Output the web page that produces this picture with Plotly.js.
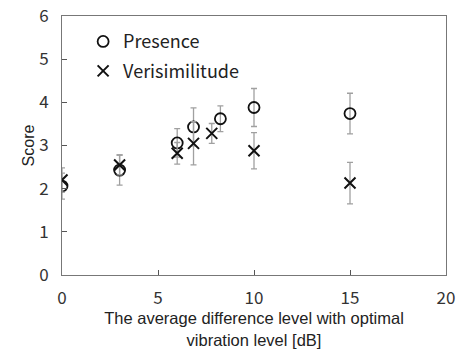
<!DOCTYPE html>
<html><head><meta charset="utf-8">
<script src="https://cdn.plot.ly/plotly-3.0.1.min.js"></script>
<style>body{margin:0;}#c{width:462px;height:349px;}</style>
</head><body><div id="c"></div>
<script>
const presX = [0, 3, 6, 6.85, 8.25, 10, 15];
const presY = [2.06, 2.43, 3.06, 3.43, 3.62, 3.88, 3.74];
const presErr = [0.3, 0.35, 0.33, 0.44, 0.3, 0.44, 0.47];
const veriX = [0, 3, 6, 6.85, 7.8, 10, 15];
const veriY = [2.2, 2.55, 2.82, 3.05, 3.28, 2.88, 2.13];
const veriErr = [0.28, 0.23, 0.25, 0.5, 0.23, 0.42, 0.48];
const xTicks = [0, 5, 10, 15, 20];
const yTicks = [0, 1, 2, 3, 4, 5, 6];

const errStyle = {type:'data', visible:true, color:'#a0a0a0', thickness:1.3, width:3};
const traces = [
  {x:presX, y:presY, name:'Presence', legendgroup:'a', mode:'markers', type:'scatter',
   error_y:Object.assign({array:presErr}, errStyle),
   marker:{symbol:'circle-open', size:11, color:'#111', line:{width:1.8, color:'#111'}}},
  {x:veriX, y:veriY, name:'Verisimilitude', legendgroup:'b', mode:'markers', type:'scatter',
   error_y:Object.assign({array:veriErr}, errStyle),
   marker:{symbol:'x-thin-open', size:11, color:'#111', line:{width:2, color:'#111'}}}
];
const tickFont = {family:'Noto Sans CJK JP, sans-serif', size:17, color:'#333'};
const layout = {
  width:462, height:349,
  margin:{l:62, r:16, t:16, b:74},
  paper_bgcolor:'#fff', plot_bgcolor:'#fff',
  showlegend:true,
  legend:{x:0.055, y:0.972, xanchor:'left', yanchor:'top', bgcolor:'rgba(0,0,0,0)', traceorder:'grouped',
    font:{family:'Noto Sans CJK JP, sans-serif', size:18, color:'#222'}, tracegroupgap:3, itemwidth:30},
  xaxis:{range:[0,20], tickvals:xTicks, ticktext:xTicks.map(String), ticks:'inside', ticklen:5, tickcolor:'#555',
    showline:true, linecolor:'#777', linewidth:1, mirror:true, showgrid:false, zeroline:false,
    tickfont:tickFont, ticklabelstandoff:8,
    title:{text:'The average difference level with optimal<br>vibration level [dB]', standoff:0,
      font:{family:'Liberation Sans, Arial, sans-serif', size:16.5, color:'#222'}}},
  yaxis:{range:[0,6], tickvals:yTicks, ticktext:yTicks.map(String), ticks:'inside', ticklen:5, tickcolor:'#555',
    showline:true, linecolor:'#777', linewidth:1, mirror:true, showgrid:false, zeroline:false,
    tickfont:tickFont, ticklabelstandoff:9,
    title:{text:'Score', standoff:0, font:{family:'Liberation Sans, Arial, sans-serif', size:16, color:'#222'}}}
};
Plotly.newPlot('c', traces, layout, {displayModeBar:false, staticPlot:true});
</script></body></html>
